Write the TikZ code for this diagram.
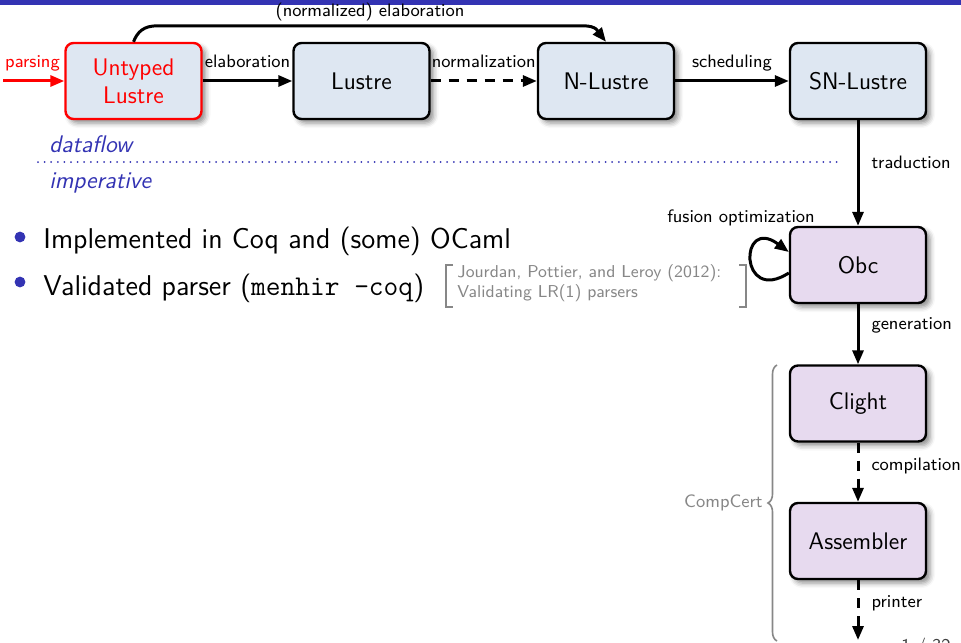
\documentclass[tikz,border=0pt]{standalone}
\usetikzlibrary{arrows.meta,calc,decorations.pathreplacing,shadows.blur}

\definecolor{slideblue}{RGB}{51,51,179}
\definecolor{dfblue}{RGB}{222,231,242}
\definecolor{imppurple}{RGB}{231,218,239}
\definecolor{citegray}{RGB}{135,135,135}

\newcommand\stagefont{\sffamily\fontsize{12}{14}\selectfont}
\newcommand\edgefont{\sffamily\fontsize{9}{11}\selectfont}
\newcommand\itemfont{\sffamily\fontsize{14.3}{17}\selectfont}
\newcommand\sectfont{\sffamily\itshape\fontsize{12}{14}\selectfont}
\newcommand\citefont{\sffamily\fontsize{8.6}{10}\selectfont}

\tikzset{
  stage/.style={draw, line width=1.2pt, rounded corners=4pt,
    minimum width=68pt, minimum height=38pt, align=center, font=\stagefont,
    blur shadow={shadow xshift=2pt, shadow yshift=-2pt,
      shadow blur radius=2.5pt, shadow opacity=45}},
  dfstage/.style={stage, fill=dfblue},
  impstage/.style={stage, fill=imppurple},
  lbl/.style={font=\edgefont, inner sep=0pt},
  flow/.style={line width=1.5pt, -{Triangle[length=7pt,width=5.5pt]}},
  dflow/.style={flow, dash pattern=on 5pt off 4pt},
  plain/.style={inner sep=0pt},
}

\begin{document}
\begin{tikzpicture}[x=0.5pt,y=0.5pt]
\useasboundingbox (0,0) rectangle (961,-642);

% slide header strip
\fill[slideblue] (0,0) rectangle (961,-5);

% compilation stages
\node[dfstage, draw=red, text=red] (U) at (133.5,-81) {Untyped\\Lustre};
\node[dfstage] (L) at (361.5,-81) {Lustre};
\node[dfstage] (N) at (606,-81) {N-Lustre};
\node[dfstage] (S) at (858,-81) {SN-Lustre};
\node[impstage] (O) at (858,-265) {Obc};
\node[impstage] (C) at (858,-403.5) {Clight};
\node[impstage] (A) at (858,-541) {Assembler};

% horizontal passes
\coordinate (src) at (3,-81);
\draw[flow, red] (src) -- (U);
\node[lbl, text=red, anchor=base] at (32.5,-68) {parsing};
\draw[flow] (U) -- (L) node[lbl, midway, anchor=base, yshift=6.5pt] {elaboration};
\draw[dflow] (L) -- (N) node[lbl, midway, anchor=base, yshift=6.5pt] {normalization};
\draw[flow] (N) -- (S) node[lbl, midway, anchor=base, yshift=6.5pt] {scheduling};

% shortcut over the top
\draw[flow] (U.north) .. controls +(4,10) and +(-14,0) .. ($(U.north)+(24,16)$)
  -- ($(N.north)+(-23,16)$) .. controls +(14,0) and +(-8,10) .. (N.north);
\node[lbl, anchor=base] at (370,-17) {(normalized) elaboration};

% vertical passes
\draw[flow] (S) -- (O) node[lbl, midway, anchor=base west, xshift=6pt, yshift=2.5pt] {traduction};
\draw[flow] (O) -- (C) node[lbl, midway, anchor=base west, xshift=6pt, yshift=2.25pt] {generation};
\draw[dflow] (C) -- (A) node[lbl, midway, anchor=base west, xshift=6pt, yshift=1pt] {compilation};
\coordinate (out) at (858,-640);
\draw[dflow] (A) -- (out) node[lbl, midway, anchor=base west, xshift=6pt, yshift=1.25pt] {printer};

% optimisation loop on Obc
\draw[flow] ($(O.west)+(0,-8)$) .. controls +(-50,-32) and +(-50,37) .. ($(O.west)+(0,13)$);
\node[lbl, anchor=base] at (741,-222) {fusion optimization};

% dataflow / imperative separator
\draw[slideblue, line width=1pt, line cap=round, dash pattern=on 0pt off 3.3pt]
  (38,-162) -- (843,-162);
\node[plain, anchor=base west, text=slideblue, font=\sectfont] at (49,-152) {dataflow};
\node[plain, anchor=base west, text=slideblue, font=\sectfont] at (49,-188) {imperative};

% bullet list
\fill[slideblue] (20,-237) circle (2.7pt);
\fill[slideblue] (20,-282) circle (2.7pt);
\node[plain, anchor=base west, font=\itemfont] at (43,-248) {Implemented in Coq and (some) OCaml};
\node[plain, anchor=base west, font=\itemfont] at (43,-295) {Validated parser (\texttt{menhir -coq})};

% citation
\draw[citegray, line width=0.7pt] (453,-265) -- (446,-265) -- (446,-307) -- (453,-307);
\draw[citegray, line width=0.7pt] (739,-265) -- (746,-265) -- (746,-307) -- (739,-307);
\node[plain, anchor=base west, text=citegray, font=\citefont] at (457,-277) {Jourdan, Pottier, and Leroy (2012):};
\node[plain, anchor=base west, text=citegray, font=\citefont] at (457,-297) {Validating LR(1) parsers};

% CompCert part of the chain
\draw[citegray, line width=0.8pt, decorate, decoration={brace, amplitude=4.5pt}]
  (777,-641) -- (777,-365);
\node[plain, anchor=east, text=citegray, font=\edgefont] at (763,-503) {CompCert};

% page number
\node[plain, anchor=base, font=\edgefont, text=black!75] at (926,-651) {1 / 32};
\end{tikzpicture}
\end{document}
